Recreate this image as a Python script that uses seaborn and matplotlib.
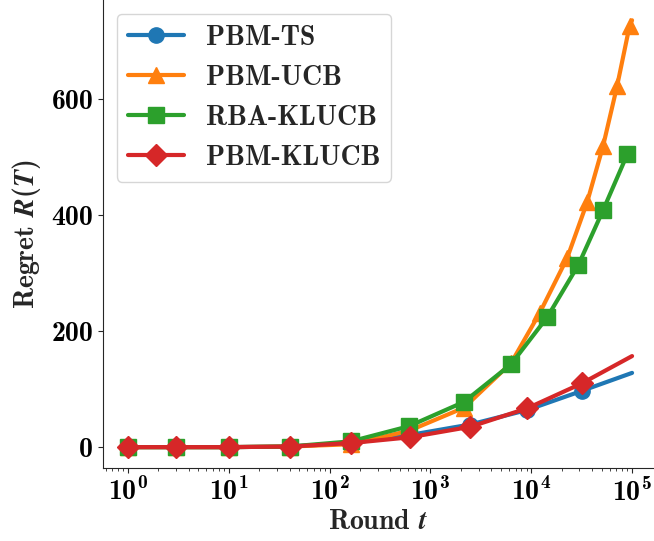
"""Regret vs round, PBM bandit algorithms."""

import seaborn as sns
import matplotlib.pyplot as plt
import pandas as pd

# values
rounds_pbm = [1, 3, 10, 40, 163, 627, 2476, 9135, 31800, 100000]
regret_pbm_ts = [0, 0, 0, 1, 7, 21, 39, 64, 97, 128]
regret_pbm_klucb = [0, 0, 0, 1, 7, 17, 35, 67, 110, 157]

rounds_ucb = [1, 3, 10, 40, 163, 611, 2154, 6310, 12100, 22700, 35800,
              51700, 70900, 94600, 100000]
regret_pbm_ucb = [0, 0, 0, 1, 5, 28, 68, 145, 231, 326, 422, 520, 622, 727, 736]

rounds_rba = [1, 3, 10, 40, 163, 611, 2154, 6310, 14400, 29300, 51700,
              89700, 100000]
regret_rba_klucb = [0, 0, 0, 1, 10, 36, 78, 143, 224, 314, 409, 505, 515]

series = [
    ('PBM-TS', rounds_pbm, regret_pbm_ts, 'o'),
    ('PBM-UCB', rounds_ucb, regret_pbm_ucb, '^'),
    ('RBA-KLUCB', rounds_rba, regret_rba_klucb, 's'),
    ('PBM-KLUCB', rounds_pbm, regret_pbm_klucb, 'D'),
]

sns.set_style('ticks')
plt.rcParams['font.family'] = ['cmb10', 'DejaVu Serif']
plt.rcParams['mathtext.fontset'] = 'custom'
plt.rcParams['mathtext.rm'] = 'cmb10'
plt.rcParams['mathtext.bf'] = 'cmb10'
plt.rcParams['mathtext.it'] = 'STIXGeneral:italic:bold'
plt.rcParams['mathtext.default'] = 'it'
plt.rcParams['axes.unicode_minus'] = False

colors = sns.color_palette('tab10')

fig = plt.figure(figsize=(6.54, 5.41), dpi=100)
ax = fig.add_axes([103 / 654, 73 / 541, 551 / 654, 468 / 541])
ax.set_xscale('log')

for i, (name, t, r, mk) in enumerate(series):
    df = pd.DataFrame({'t': t, 'regret': r})
    # last point of each run is only the end of the line, no marker
    sns.lineplot(data=df, x='t', y='regret', ax=ax, label=name,
                 color=colors[i], marker=mk, markersize=11,
                 markeredgecolor=colors[i], markeredgewidth=1,
                 markevery=list(range(len(t) - 1)), linewidth=3,
                 sort=False)

ax.set_xlim(0.565, 165000)
ax.set_ylim(-36, 771)
ax.set_yticks([0, 200, 400, 600])
ax.tick_params(labelsize=20, colors='black')
ax.tick_params(which='both', color='.15')
ax.set_xlabel('Round $t$', fontsize=20, labelpad=2)
ax.set_ylabel('Regret $R\\mathrm{(}T\\mathrm{)}$', fontsize=20, labelpad=6)
sns.despine(ax=ax)

ax.legend(loc='upper left', fontsize=20)

fig.savefig('out.png', dpi=100)
